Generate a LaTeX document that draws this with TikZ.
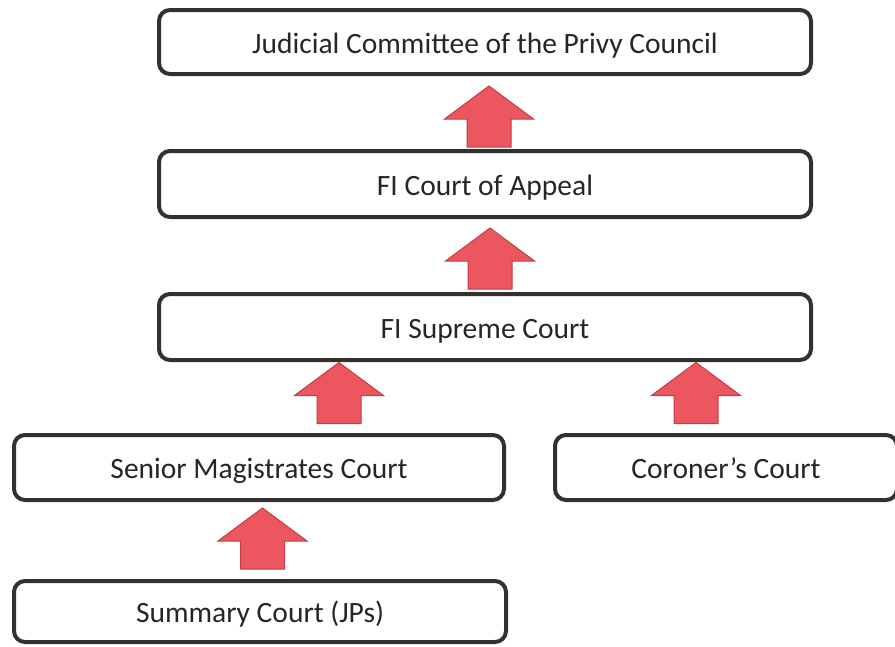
\documentclass[tikz,border=0pt]{standalone}
\usepackage{fontspec}
\setmainfont{Carlito}
\usepackage{xcolor}
\usepackage{tikz}
\usetikzlibrary{positioning, calc}
\definecolor{boxline}{RGB}{50,49,43}
\definecolor{textgray}{RGB}{38,38,35}
\definecolor{arrowred}{RGB}{236,86,95}
\definecolor{arrowedge}{RGB}{196,62,70}

\begin{document}
\begin{tikzpicture}[
    court/.style={draw=boxline, line width=4pt, rounded corners=11pt, fill=white, minimum height=64pt, text=textgray, text height=28pt, text depth=6pt, inner ysep=0pt, font=\fontsize{29.5}{34}\selectfont},
    upper/.style={court, minimum width=652pt},
    courtarrow/.pic={
        \draw[fill=arrowred, draw=arrowedge, line width=1pt, line join=miter]
            (0,30.5pt) -- (44.5pt,-2.5pt) -- (22pt,-2.5pt) -- (22pt,-30.5pt)
            -- (-22pt,-30.5pt) -- (-22pt,-2.5pt) -- (-44.5pt,-2.5pt) -- cycle;
    },
]
    \useasboundingbox (0,0) rectangle (895pt,-646pt);
    \clip (0,0) rectangle (895pt,-646pt);

    % Top of the hierarchy
    \node[upper] (privy) at (485pt,-42pt) {Judicial Committee of the Privy Council};
    % Appeal court
    \node[upper, minimum height=66pt, below=73pt of privy] (appeal) {FI Court of Appeal};
    % Supreme court
    \node[upper, minimum height=66pt, below=73pt of appeal] (supreme) {FI Supreme Court};

    % Lower courts
    \node[court, minimum width=490pt, minimum height=65pt, below=71pt of supreme, xshift=-226pt] (senior) {Senior Magistrates Court};
    \node[court, minimum width=342pt, minimum height=65pt, below=71pt of supreme, xshift=241pt] (coroner) {Coroner’s Court};
    \node[court, minimum width=492pt, minimum height=61pt, below=77pt of senior, xshift=1pt] (summary) {Summary Court (JPs)};

    % Appeal arrows
    \pic at ($(privy.south)!0.5!(appeal.north)+(4pt,-4pt)$) {courtarrow};
    \pic at ($(appeal.south)!0.5!(supreme.north)+(5pt,-3pt)$) {courtarrow};
    \pic at ($(senior.north)+(80pt,40pt)$) {courtarrow};
    \pic at ($(coroner.north)+(-30pt,40pt)$) {courtarrow};
    \pic at ($(summary.north)!0.5!(senior.south)+(3pt,2pt)$) {courtarrow};
\end{tikzpicture}
\end{document}
